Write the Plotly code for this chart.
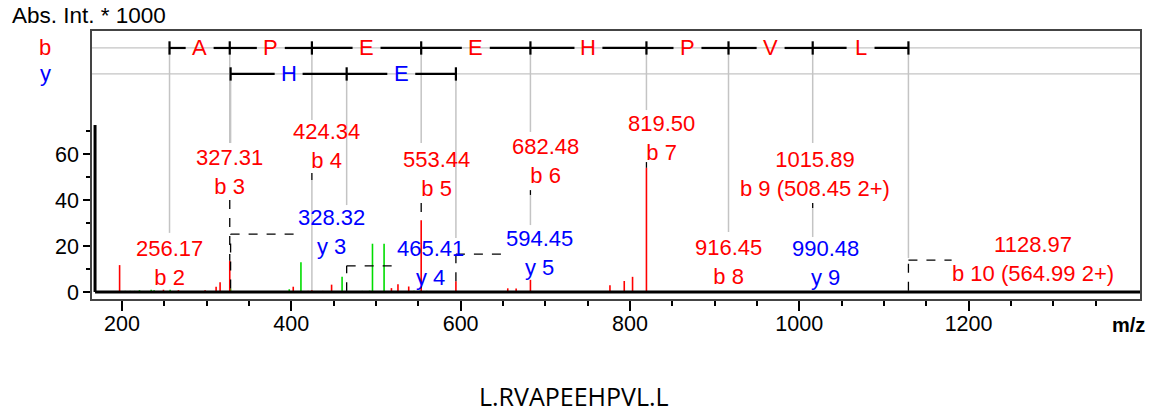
import plotly.graph_objects as go

# ---------------- data ----------------
red_mz = [197.2, 249.0, 266.7, 298.2, 311.2, 315.9, 327.31, 402.3, 420.0, 424.34,
          437.0, 447.6, 518.3, 526.0, 538.7, 553.44, 594.45, 655.7, 665.6, 682.48,
          776.4, 793.3, 803.1, 819.50]
red_int = [11.7, 1.0, 0.8, 0.8, 2.3, 4.2, 13.6, 2.3, 0.5, 0.8,
           0.5, 3.2, 1.7, 3.4, 2.4, 31.2, 4.7, 1.6, 1.5, 5.3,
           2.9, 4.8, 6.6, 54.0]
green_mz = [176.4, 203.9, 209.8, 214.9, 220.7, 234.5, 238.0, 256.9, 328.32, 397.6,
            411.4, 460.0, 465.41, 484.0, 492.5, 495.9, 509.6, 545.0, 552.0, 560.0,
            572.9, 610.6, 770.6, 990.48]
green_int = [0.4, 0.5, 0.5, 0.5, 0.8, 1.0, 0.8, 1.0, 1.5, 1.2,
             12.9, 6.6, 0.3, 0.5, 0.6, 21.0, 21.0, 0.5, 0.6, 0.5,
             0.4, 0.3, 0.4, 0.3]

b_ladder_mz = [256.17, 327.31, 424.34, 553.44, 682.48, 819.50, 916.45, 1015.89, 1128.97]
b_ladder_res = ["A", "P", "E", "E", "H", "P", "V", "L"]
y_ladder_mz = [328.32, 465.41, 594.45]
y_ladder_res = ["H", "E"]

ion_names = ["b 2", "b 3", "y 3", "b 4", "y 4", "b 5", "y 5", "b 6", "b 7", "b 8",
             "b 9 (508.45 2+)", "y 9", "b 10 (564.99 2+)"]
ion_mz = [256.17, 327.31, 328.32, 424.34, 465.41, 553.44, 594.45, 682.48, 819.50, 916.45,
          1015.89, 990.48, 1128.97]

x_ticks = [200, 400, 600, 800, 1000, 1200]
x_minor = [250, 300, 350, 450, 500, 550, 650, 700, 750, 850, 900, 950,
           1050, 1100, 1150, 1250, 1300, 1350]
y_ticks = [0, 20, 40, 60]
y_minor = [10, 30, 50, 70]
sequence = "L.RVAPEEHPVL.L"

# ---------------- layout / styling parameters ----------------
RED = "#ff0000"
GREEN = "#00dd00"
BLUE = "#0000ff"
GRAY = "#c4c4c4"
FONT = "Liberation Sans, Arial, sans-serif"
X_RANGE = [164.6, 1402.5]
Y_RANGE = [-3.04, 113.48]
ROW_B = 106.1
ROW_Y = 94.8
TICK_HALF = 2.9
GAP_HALF = 16.5
AXIS_TOP = 72.6

# label centre (m/z, intensity) per ion, in the order of ion_names
label_x = [256.17, 327.31, 447.6, 442.0, 564.0, 571.3, 693.7, 700.2, 836.9, 916.45,
           1018.2, 1031.4, 1276.6]
label_y = [12.8, 52.1, 26.2, 63.5, 12.4, 51.1, 17.0, 56.8, 67.0, 13.2,
           51.1, 12.5, 14.5]
# gray guide segments (top, bottom) per ion
gray_segs = [
    [(ROW_B, 25.7)],
    [(ROW_B, 64.8)],
    [(ROW_Y, 64.8)],
    [(ROW_B, 74.8), (48.7, 0.8)],
    [(ROW_Y, 37.8)],
    [(ROW_B, 64.8)],
    [(ROW_Y, 23.5)],
    [(ROW_B, 69.6), (42.2, 29.1)],
    [(ROW_B, 79.1)],
    [(ROW_B, 26.1)],
    [(ROW_B, 64.8), (36.5, 23.9)],
    [],
    [(ROW_B, 14.8)],
]
# black dashed leaders: list of (x, y) points per ion
leaders = [
    [],
    [(327.31, 40.0), (327.31, 13.6)],
    [(328.32, 1.5), (328.32, 25.2), (407.8, 25.2)],
    [(424.34, 51.7), (424.34, 48.7)],
    [(465.41, 0.3), (465.41, 11.4), (525.7, 11.4)],
    [(553.44, 38.7), (553.44, 31.2)],
    [(594.45, 4.7), (594.45, 16.5), (655.4, 16.5)],
    [(682.48, 44.3), (682.48, 42.2)],
    [(819.50, 56.5), (819.50, 54.0)],
    [],
    [(1015.89, 38.7), (1015.89, 36.5)],
    [],
    [(1128.97, 0.5), (1128.97, 13.9), (1180.0, 13.9)],
]

fig = go.Figure()


def sticks(mz, inten):
    xs, ys = [], []
    for m, i in zip(mz, inten):
        xs += [m, m, None]
        ys += [0, i, None]
    return xs, ys


for mz, inten, col in [(green_mz, green_int, GREEN), (red_mz, red_int, RED)]:
    xs, ys = sticks(mz, inten)
    fig.add_trace(go.Scatter(x=xs, y=ys, mode="lines", line=dict(color=col, width=1.6),
                             hoverinfo="skip", showlegend=False))

shapes = []
# gray ladder rows
for row in (ROW_B, ROW_Y):
    shapes.append(dict(type="line", xref="paper", yref="y", x0=0, x1=1, y0=row, y1=row,
                       line=dict(color=GRAY, width=1.3), layer="below"))
# gray guides
for name, m, segs in zip(ion_names, ion_mz, gray_segs):
    for (a, b) in segs:
        shapes.append(dict(type="line", xref="x", yref="y", x0=m, x1=m, y0=a, y1=b,
                           line=dict(color=GRAY, width=1.5), layer="below"))
# dashed leaders
for pts in leaders:
    for (x0, y0), (x1, y1) in zip(pts[:-1], pts[1:]):
        shapes.append(dict(type="line", xref="x", yref="y", x0=x0, x1=x1, y0=y0, y1=y1,
                           line=dict(color="black", width=1.3, dash="dash")))


def ladder(mzs, row, res, color):
    anns = []
    for m in mzs:
        shapes.append(dict(type="line", xref="x", yref="y", x0=m, x1=m,
                           y0=row - TICK_HALF, y1=row + TICK_HALF,
                           line=dict(color="black", width=2.2)))
    for a, b, r in zip(mzs[:-1], mzs[1:], res):
        mid = (a + b) / 2
        shapes.append(dict(type="line", xref="x", yref="y", x0=a, x1=mid - GAP_HALF,
                           y0=row, y1=row, line=dict(color="black", width=2.2)))
        shapes.append(dict(type="line", xref="x", yref="y", x0=mid + GAP_HALF, x1=b,
                           y0=row, y1=row, line=dict(color="black", width=2.2)))
        anns.append(dict(x=mid, y=row, xref="x", yref="y", text=r, showarrow=False,
                         font=dict(family=FONT, size=22, color=color),
                         xanchor="center", yanchor="middle"))
    return anns


annotations = []
annotations += ladder(b_ladder_mz, ROW_B, b_ladder_res, RED)
annotations += ladder(y_ladder_mz, ROW_Y, y_ladder_res, BLUE)

# thick spectrum axes
shapes.append(dict(type="line", xref="paper", yref="y", x0=0.0029, x1=0.0029, y0=0, y1=AXIS_TOP,
                   line=dict(color="black", width=3)))
shapes.append(dict(type="line", xref="paper", yref="y", x0=0.0029, x1=1, y0=0, y1=0,
                   line=dict(color="black", width=3)))

# ion labels
for name, m, lx, ly in zip(ion_names, ion_mz, label_x, label_y):
    col = BLUE if name.startswith("y") else RED
    annotations.append(dict(x=lx, y=ly, xref="x", yref="y",
                            text=f"{m:.2f}<br>{name}", showarrow=False,
                            font=dict(family=FONT, size=22, color=col),
                            xanchor="center", yanchor="middle", align="center"))

# row labels
annotations.append(dict(x=-0.0448, y=ROW_B, xref="paper", yref="y", text="b", showarrow=False,
                        font=dict(family=FONT, size=22, color=RED), xanchor="center", yanchor="middle"))
annotations.append(dict(x=-0.0448, y=ROW_Y, xref="paper", yref="y", text="y", showarrow=False,
                        font=dict(family=FONT, size=22, color=BLUE), xanchor="center", yanchor="middle"))
# axis titles
annotations.append(dict(x=-0.0781, y=1.0597, xref="paper", yref="paper", text="Abs. Int. * 1000",
                        showarrow=False, font=dict(family=FONT, size=22.5, color="black"),
                        xanchor="left", yanchor="middle"))
annotations.append(dict(x=0.9895, y=-0.097, xref="paper", yref="paper", text="<b>m/z</b>",
                        showarrow=False, font=dict(family=FONT, size=20, color="black"),
                        xanchor="center", yanchor="middle"))
annotations.append(dict(x=0.46, y=-0.362, xref="paper", yref="paper", text=sequence,
                        showarrow=False, font=dict(family="Open Sans, sans-serif", size=25, color="black"),
                        xanchor="center", yanchor="middle"))

fig.update_layout(
    width=1151, height=415,
    margin=dict(l=92, r=9, t=31, b=116),
    paper_bgcolor="white", plot_bgcolor="white",
    shapes=shapes, annotations=annotations,
    showlegend=False,
    xaxis=dict(range=X_RANGE, tickmode="array", tickvals=x_ticks,
               ticks="outside", ticklen=10, tickwidth=1.6, tickcolor="black",
               ticklabelstandoff=-6,
               minor=dict(tickmode="array", tickvals=x_minor, ticks="outside",
                          ticklen=5, tickwidth=1.6, tickcolor="black"),
               showline=True, mirror=True, linecolor="#444", linewidth=1.5,
               showgrid=False, zeroline=False,
               tickfont=dict(family=FONT, size=21.5, color="black")),
    yaxis=dict(range=Y_RANGE, tickmode="array", tickvals=y_ticks,
               ticks="outside", ticklen=7, tickwidth=1.6, tickcolor="black",
               minor=dict(tickmode="array", tickvals=y_minor, ticks="outside",
                          ticklen=4, tickwidth=1.6, tickcolor="black"),
               showline=True, mirror=True, linecolor="#444", linewidth=1.5,
               showgrid=False, zeroline=False,
               tickfont=dict(family=FONT, size=21.5, color="black")),
)

fig.write_html("out.html", config={"displayModeBar": False},
               post_script="document.body.style.margin='0px';")
